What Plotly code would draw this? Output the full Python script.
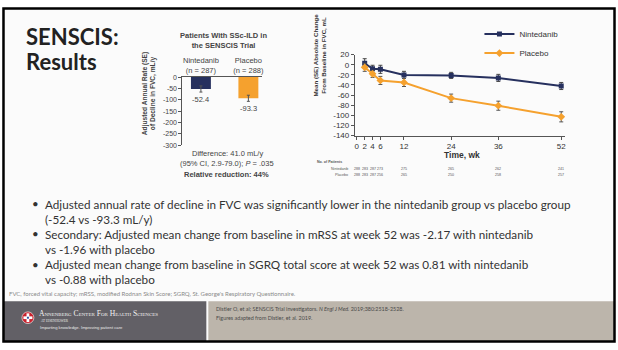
import plotly.graph_objects as go

W, H = 618, 350

# ---------------- data ----------------
bar_groups = ["Nintedanib<br>(n = 287)", "Placebo<br>(n = 288)"]
bar_values = [-52.4, -93.3]
bar_se = [13.5, 13.4]
bar_labels = ["-52.4", "-93.3"]
bar_ticks = [0, -50, -100, -150, -200, -250, -300]
bar_tick_text = ["0", "-50", "-100", "-150", "-200", "-250", "-300"]

weeks = [2, 4, 6, 12, 24, 36, 52]
nin_mean = [3, -8, -9, -20, -21, -26, -42]
nin_se = [9, 7, 8, 7, 6, 7, 7]
pla_mean = [-5, -18, -31, -35, -66, -81, -103]
pla_se = [8, 7, 8, 8, 8, 9, 10]
week_ticks = [0, 2, 4, 6, 12, 24, 36, 52]
change_ticks = [20, 0, -20, -40, -60, -80, -100, -120, -140]
change_tick_text = ["20", "0", "-20", "-40", "-60", "-80", "-100", "-120", "-140"]

table_weeks = [0, 2, 4, 6, 12, 24, 36, 52]
nin_patients = [288, 283, 287, 273, 275, 265, 262, 241]
pla_patients = [288, 283, 287, 256, 265, 250, 258, 257]

bullets = [
    ("•", "Adjusted annual rate of decline in FVC was significantly lower in the nintedanib group vs placebo group"),
    ("", "(-52.4 vs -93.3 mL/y)"),
    ("•", "Secondary: Adjusted mean change from baseline in mRSS at week 52 was -2.17 with nintedanib"),
    ("", "vs -1.96 with placebo"),
    ("•", "Adjusted mean change from baseline in SGRQ total score at week 52 was 0.81 with nintedanib"),
    ("", "vs -0.88 with placebo"),
]

NAVY = "#26305e"
ORANGE = "#f5a12e"
AX = "#555555"
TXT = "#333333"
SANS = "Liberation Sans, Arial, sans-serif"
SLIDE = "Lato, Open Sans, sans-serif"


def px(x):
    return x / W


def py(y):
    return 1 - y / H


fig = go.Figure()

# ---------------- bar chart ----------------
fig.add_trace(go.Bar(
    x=[0, 1], y=bar_values, xaxis="x", yaxis="y",
    marker=dict(color=[NAVY, ORANGE], line=dict(width=0)),
    width=0.42, showlegend=False,
    error_y=dict(type="data", array=bar_se, thickness=1, width=1.5, color="#555555"),
))

# ---------------- line chart ----------------
fig.add_trace(go.Scatter(
    x=weeks, y=nin_mean, xaxis="x2", yaxis="y2", name="Nintedanib",
    mode="lines+markers", line=dict(color=NAVY, width=2),
    marker=dict(symbol="square", size=5, color=NAVY),
    error_y=dict(type="data", array=nin_se, thickness=1, width=2, color="#444444"),
))
fig.add_trace(go.Scatter(
    x=weeks, y=pla_mean, xaxis="x2", yaxis="y2", name="Placebo",
    mode="lines+markers", line=dict(color=ORANGE, width=2),
    marker=dict(symbol="diamond", size=6, color=ORANGE),
    error_y=dict(type="data", array=pla_se, thickness=1, width=2, color="#555555"),
))

ann = []
shapes = []

# slide background & frame
shapes.append(dict(type="rect", xref="paper", yref="paper", x0=px(4), x1=px(616), y0=py(346), y1=py(5),
                   fillcolor="#fbfbfb", line=dict(width=0), layer="below"))
# footer blocks
shapes.append(dict(type="rect", xref="paper", yref="paper", x0=px(4), x1=px(207), y0=py(346), y1=py(305),
                   fillcolor="#626066", line=dict(width=0), layer="below"))
shapes.append(dict(type="rect", xref="paper", yref="paper", x0=px(209), x1=px(616), y0=py(346), y1=py(305),
                   fillcolor="#bcb5ab", line=dict(width=0), layer="below"))
# logo
shapes.append(dict(type="circle", xref="paper", yref="paper", x0=px(22), x1=px(34), y0=py(328), y1=py(316),
                   fillcolor="#c8202c", line=dict(width=0.6, color="#ffffff")))
shapes.append(dict(type="rect", xref="paper", yref="paper", x0=px(26.6), x1=px(29.4), y0=py(326.5), y1=py(317.5),
                   fillcolor="#ffffff", line=dict(width=0)))
shapes.append(dict(type="rect", xref="paper", yref="paper", x0=px(23.5), x1=px(32.5), y0=py(323.4), y1=py(320.6),
                   fillcolor="#ffffff", line=dict(width=0)))
shapes.append(dict(type="rect", xref="paper", yref="paper", x0=px(27), x1=px(29), y0=py(323), y1=py(321),
                   fillcolor="#2a4fa0", line=dict(width=0)))
# frame
shapes.append(dict(type="rect", xref="paper", yref="paper", x0=px(3.5), x1=px(616.5), y0=py(346.5), y1=py(4.5),
                   fillcolor="rgba(0,0,0,0)", line=dict(width=2.5, color="#000000")))

# Title
ann.append(dict(text="<b>SENSCIS:</b>", x=px(24), y=py(33), xanchor="left", yanchor="middle",
                font=dict(family=SLIDE, size=22, color="#222222")))
ann.append(dict(text="<b>Results</b>", x=px(24), y=py(59), xanchor="left", yanchor="middle",
                font=dict(family=SLIDE, size=22, color="#222222")))

# bar chart texts
ann.append(dict(text="<b>Patients With SSc-ILD in<br>the SENSCIS Trial</b>", x=px(224), y=py(37),
                xanchor="center", yanchor="middle", font=dict(family=SANS, size=7.5, color="#444444")))
ann.append(dict(text="<b>Adjusted Annual Rate (SE)<br>of Decline in FVC, mL/y</b>", x=px(150), y=py(92),
                textangle=-90, xanchor="center", yanchor="middle",
                font=dict(family=SANS, size=6.6, color="#444444")))
for i, (v, se, lab) in enumerate(zip(bar_values, bar_se, bar_labels)):
    ann.append(dict(text=lab, x=i, y=v - se, xref="x", yref="y", xanchor="center", yanchor="top",
                    yshift=-1, showarrow=False, font=dict(family=SANS, size=7.5, color="#444444")))
ann.append(dict(text="Difference: 41.0 mL/y", x=px(228), y=py(153), xanchor="center", yanchor="middle",
                font=dict(family=SANS, size=7.5, color="#444444")))
ann.append(dict(text="(95% CI, 2.9-79.0); <i>P</i> = .035", x=px(228), y=py(164), xanchor="center",
                yanchor="middle", font=dict(family=SANS, size=7.5, color="#444444")))
ann.append(dict(text="<b>Relative reduction: 44%</b>", x=px(227), y=py(174.5), xanchor="center",
                yanchor="middle", font=dict(family=SANS, size=7.5, color="#444444")))

# line chart texts
ann.append(dict(text="<b>Mean (SE) Absolute Change<br>From Baseline in FVC, mL</b>", x=px(321), y=py(52),
                textangle=-90, xanchor="center", yanchor="middle",
                font=dict(family=SANS, size=6.2, color="#333333")))
ann.append(dict(text="<b>Time, wk</b>", x=px(463), y=py(155), xanchor="center", yanchor="middle",
                font=dict(family=SANS, size=8.5, color="#333333")))
ann.append(dict(text="<b>No. of Patients</b>", x=px(316), y=py(162), xanchor="left", yanchor="middle",
                font=dict(family=SANS, size=3.6, color="#555555")))
ann.append(dict(text="Nintedanib", x=px(351), y=py(169), xanchor="right", yanchor="middle",
                font=dict(family=SANS, size=3.6, color="#555555")))
ann.append(dict(text="Placebo", x=px(351), y=py(176), xanchor="right", yanchor="middle",
                font=dict(family=SANS, size=3.6, color="#555555")))
for wk, n1, n2 in zip(table_weeks, nin_patients, pla_patients):
    ann.append(dict(text=str(n1), x=wk, xref="x2", y=py(169), xanchor="center", yanchor="middle",
                    font=dict(family=SANS, size=3.6, color="#555555")))
    ann.append(dict(text=str(n2), x=wk, xref="x2", y=py(176), xanchor="center", yanchor="middle",
                    font=dict(family=SANS, size=3.6, color="#555555")))

# bullets
line_y = [205, 220.5, 236, 251.5, 267, 282.5]
for (b, t), yy in zip(bullets, line_y):
    if b:
        ann.append(dict(text=b, x=px(30), y=py(yy), xanchor="left", yanchor="middle",
                        font=dict(family=SLIDE, size=11.5, color=TXT)))
    ann.append(dict(text=t, x=px(43), y=py(yy), xanchor="left", yanchor="middle",
                    font=dict(family=SLIDE, size=11.7, color=TXT)))

ann.append(dict(text="FVC, forced vital capacity; mRSS, modified Rodnan Skin Score; SGRQ, St. George's Respiratory Questionnaire.",
                x=px(7), y=py(297.5), xanchor="left", yanchor="middle",
                font=dict(family=SLIDE, size=6, color="#8a8a8a")))

# footer text
ann.append(dict(text="Annenberg Center For Health Sciences", x=px(37), y=py(318), xanchor="left",
                yanchor="middle", font=dict(family="Liberation Serif, serif", size=7.6, color="#f2f2f2",
                                           variant="small-caps")))
ann.append(dict(text="AT EISENHOWER", x=px(39), y=py(325.5), xanchor="left", yanchor="middle",
                font=dict(family="Liberation Serif, serif", size=3.4, color="#e8e8e8")))
ann.append(dict(text="Imparting knowledge. Improving patient care", x=px(38), y=py(332), xanchor="left",
                yanchor="middle", font=dict(family=SANS, size=4.2, color="#e8e8e8")))
ann.append(dict(text="Distler O, et al; SENSCIS Trial investigators. <i>N Engl J Med.</i> 2019;380:2518-2528.",
                x=px(215), y=py(313.5), xanchor="left", yanchor="middle",
                font=dict(family=SLIDE, size=5.4, color="#4a4a4a")))
ann.append(dict(text="Figures adapted from Distler, et al. 2019.", x=px(215), y=py(322), xanchor="left",
                yanchor="middle", font=dict(family=SLIDE, size=5.4, color="#4a4a4a")))

for a in ann:
    a.setdefault("xref", "paper")
    a.setdefault("yref", "paper")
    a.setdefault("showarrow", False)

fig.update_layout(
    width=W, height=H, margin=dict(l=0, r=0, t=0, b=0),
    paper_bgcolor="#ffffff", plot_bgcolor="rgba(0,0,0,0)",
    font=dict(family=SANS, color=TXT),
    annotations=ann, shapes=shapes,
    showlegend=True,
    legend=dict(x=px(481), y=py(16), xanchor="left", yanchor="top", bgcolor="rgba(0,0,0,0)",
                font=dict(family=SANS, size=8, color="#333333"), tracegroupgap=0, itemwidth=30),
    xaxis=dict(domain=[px(183), px(263)], range=[-0.39, 1.29], side="top",
               tickvals=[0, 1], ticktext=bar_groups, ticks="", showline=True, linecolor=AX, linewidth=1,
               showgrid=False, zeroline=False, tickfont=dict(size=7.5, color="#444444"), anchor="y"),
    yaxis=dict(domain=[py(145), py(75)], range=[-300, 0], tickvals=bar_ticks, ticktext=bar_tick_text,
               ticks="outside", ticklen=3, tickcolor=AX, showline=True, linecolor=AX, linewidth=1,
               showgrid=False, zeroline=False, tickfont=dict(size=7, color="#444444"), anchor="x"),
    xaxis2=dict(domain=[px(356), px(567)], range=[-0.5, 53], tickvals=week_ticks, ticks="outside",
                ticklen=3, tickcolor=AX, showline=True, linecolor=AX, linewidth=1, showgrid=False,
                zeroline=False, tickfont=dict(size=8, color="#333333"), anchor="y2"),
    yaxis2=dict(domain=[py(135), py(52)], range=[-140, 20], tickvals=change_ticks,
                ticktext=change_tick_text, ticks="outside",
                ticklen=3, tickcolor=AX, showline=True, linecolor=AX, linewidth=1, showgrid=False,
                zeroline=False, tickfont=dict(size=8, color="#333333"), anchor="x2"),
)

fig.write_html("out.html", config={"displayModeBar": False},
               post_script="document.body.style.margin='0px';document.body.style.overflow='hidden';")
